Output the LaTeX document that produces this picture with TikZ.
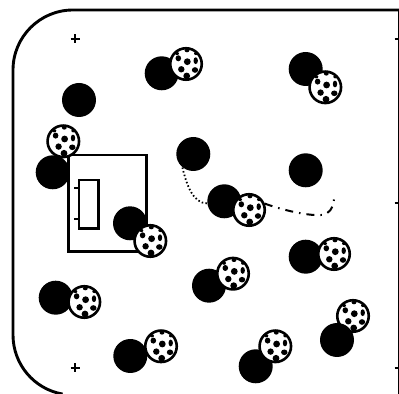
\documentclass[tikz,border=0pt]{standalone}
\usepackage{xcolor}
\usepackage{tikz}
\usetikzlibrary{positioning,calc}
\tikzset{
    pitchline/.style={draw, line width=0.058cm},
    boxline/.style={draw, line width=0.056cm},
    markline/.style={draw, line width=0.036cm},
    player/.style={circle, fill=black, minimum size=0.68cm, inner sep=0},
    ball/.style={circle, draw, fill=white, line width=0.052cm, minimum size=0.63cm, inner sep=0},
    runline/.style={line width=0.036cm, dash pattern=on 0.03cm off 0.045cm},
    shotline/.style={line width=0.04cm, dash pattern=on 0.16cm off 0.12cm on 0.03cm off 0.12cm},
}

\begin{document}
\begin{tikzpicture}[x=0.02cm, y=-0.02cm]
    \clip (0,0) rectangle (399,394);

    \draw[pitchline] (399,10) -- (73,10) arc [start angle=-90, end angle=-180, radius=60] -- (13,335) arc [start angle=180, end angle=100, radius=60];
    \draw[pitchline] (399,10) -- (399,395);
    \draw[boxline] (68.5,155) rectangle (146.5,251.5);
    \draw[boxline] (79,180) rectangle (98.3,228.3);

    \foreach \y in {187.7, 219} {
        \draw[markline] (74,\y) -- (79,\y);
    }
    \foreach \y in {39, 203, 367.7} {
        \draw[markline] (394.5,\y) -- (399,\y);
    }
    \foreach \y in {39, 367.7} {
        \draw[markline] (70.5,\y) -- (79.5,\y);
        \draw[markline] (75,\y-4.5) -- (75,\y+4.5);
    }

    \node[ball] (b13) at (353,316) {};
    \foreach \dx/\dy/\rx/\ry in {-7.7/-5.7/2.8/3, 1.3/-2.3/3.4/3.4, 9.7/-3.3/2.2/3.4, -4.7/5.3/3.2/3.2, 9/6/3.2/2.8, 0.7/12/3.4/3.4, 1/-13.5/2.4/1.8, -9/-10.5/2/1.6, 10/-10.5/2/1.6} {
        \fill ($(b13.center)+(\dx,\dy)$) circle [x radius=\rx, y radius=\ry];
    }

    \foreach \n/\x/\y in {p1/79/100, p2/161.7/73.3, p3/52.7/172.3, p4/193.3/154, p5/305.7/69, p6/305.7/170.3, p7/130/223.3, p8/55.7/297.7, p9/130.3/356, p10/224.3/201.3, p11/305.7/256.7, p12/209/285.7, p13/337/340, p14/255.7/366.3} {
        \node[player] (\n) at (\x,\y) {};
    }

    \foreach \n/\x/\y in {b2/186/64, b3/63.3/141.3, b5/325.3/87.3, b7/150.3/241, b8/84.3/302, b9/161/346.3, b10/249/210, b11/334/254, b12/233/273.7, b14/275.3/346.3} {
        \node[ball] (\n) at (\x,\y) {};
        \foreach \dx/\dy/\rx/\ry in {-7.7/-5.7/2.8/3, 1.3/-2.3/3.4/3.4, 9.7/-3.3/2.2/3.4, -4.7/5.3/3.2/3.2, 9/6/3.2/2.8, 0.7/12/3.4/3.4, 1/-13.5/2.4/1.8, -9/-10.5/2/1.6, 10/-10.5/2/1.6} {
            \fill ($(\n.center)+(\dx,\dy)$) circle [x radius=\rx, y radius=\ry];
        }
    }

    \coordinate (shotend) at (334,199.5);
    \draw[runline] (p4.231) .. controls (187,186) and (193,203) .. (p10.187);
    \draw[shotline] (b10.22) .. controls (285,211) and (310,216) .. (321,215) .. controls (329,215) and (333,208) .. (shotend);
\end{tikzpicture}
\end{document}
